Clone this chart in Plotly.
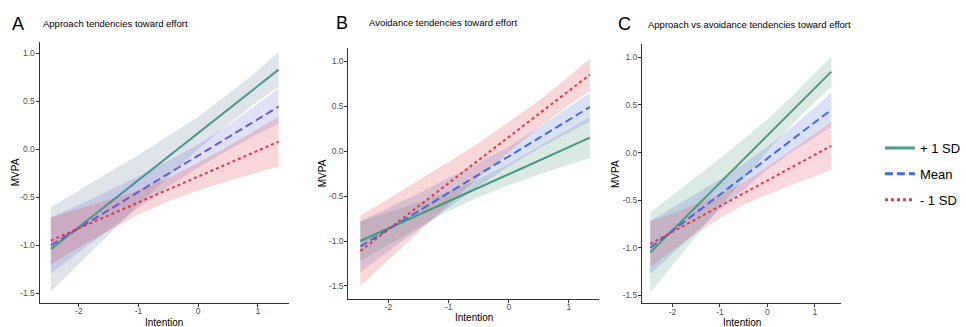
import plotly.graph_objects as go

# ---------------- data ----------------
band_x = [-2.47, -2.0, -1.5, -1.0, -0.5, 0.0, 0.5, 1.0, 1.35]
line_x = [-2.47, 1.35]
series_names = ["+ 1 SD", "Mean", "- 1 SD"]

x_tickvals = [-2, -1, 0, 1]
x_ticktext = ["-2", "-1", "0", "1"]
y_tickvals = [-1.5, -1.0, -0.5, 0.0, 0.5, 1.0]
y_ticktext = ["-1.5", "-1.0", "-0.5", "0.0", "0.5", "1.0"]

panel_letters = ["A", "B", "C"]
panel_titles = ["Approach tendencies toward effort",
                "Avoidance tendencies toward effort",
                "Approach vs avoidance tendencies toward effort"]

# Panel A
a_plus_line = [-1.04, 0.83]
a_plus_lo = [-1.48, -1.19, -0.89, -0.58, -0.29, 0.00, 0.26, 0.50, 0.65]
a_plus_hi = [-0.60, -0.43, -0.24, -0.06, 0.14, 0.34, 0.57, 0.82, 1.01]
a_mean_line = [-1.00, 0.445]
a_mean_lo = [-1.29, -1.07, -0.84, -0.61, -0.39, -0.19, -0.01, 0.16, 0.27]
a_mean_hi = [-0.71, -0.58, -0.43, -0.28, -0.12, 0.05, 0.25, 0.47, 0.63]
a_minus_line = [-0.95, 0.08]
a_minus_lo = [-1.20, -1.02, -0.85, -0.68, -0.54, -0.43, -0.33, -0.24, -0.18]
a_minus_hi = [-0.71, -0.62, -0.53, -0.43, -0.30, -0.14, 0.03, 0.21, 0.34]

# Panel B
b_plus_line = [-1.00, 0.15]
b_plus_lo = [-1.22, -1.04, -0.85, -0.67, -0.51, -0.38, -0.26, -0.15, -0.08]
b_plus_hi = [-0.78, -0.68, -0.57, -0.45, -0.31, -0.14, 0.05, 0.24, 0.38]
b_mean_line = [-1.06, 0.49]
b_mean_lo = [-1.35, -1.11, -0.87, -0.63, -0.39, -0.17, 0.03, 0.21, 0.33]
b_mean_hi = [-0.78, -0.63, -0.47, -0.30, -0.13, 0.05, 0.26, 0.49, 0.65]
b_minus_line = [-1.11, 0.85]
b_minus_lo = [-1.50, -1.21, -0.90, -0.59, -0.29, -0.01, 0.26, 0.51, 0.67]
b_minus_hi = [-0.72, -0.53, -0.33, -0.12, 0.09, 0.32, 0.56, 0.83, 1.03]

# Panel C
c_plus_line = [-1.05, 0.85]
c_plus_lo = [-1.47, -1.18, -0.88, -0.57, -0.28, 0.01, 0.28, 0.53, 0.69]
c_plus_hi = [-0.63, -0.45, -0.26, -0.06, 0.14, 0.35, 0.58, 0.83, 1.01]
c_mean_line = [-1.00, 0.45]
c_mean_lo = [-1.28, -1.06, -0.83, -0.60, -0.39, -0.18, 0.00, 0.16, 0.27]
c_mean_hi = [-0.72, -0.58, -0.43, -0.28, -0.12, 0.06, 0.26, 0.47, 0.63]
c_minus_line = [-0.96, 0.07]
c_minus_lo = [-1.20, -1.03, -0.85, -0.69, -0.55, -0.44, -0.34, -0.25, -0.18]
c_minus_hi = [-0.72, -0.64, -0.54, -0.44, -0.31, -0.15, 0.02, 0.20, 0.32]

# ---------------- styles ----------------
W, H = 966, 327
FONT = "Liberation Sans, Arial, Helvetica, sans-serif"

panels = [
    dict(series=[(a_plus_line, a_plus_lo, a_plus_hi), (a_mean_line, a_mean_lo, a_mean_hi),
                 (a_minus_line, a_minus_lo, a_minus_hi)],
         line_colors=["#4a968f", "#6a5acd", "#e0334a"],
         fill_colors=["rgba(95,120,150,0.2)", "rgba(100,100,215,0.2)", "rgba(225,50,60,0.2)"],
         px=(40, 293), py=(42, 303), xr=[-2.66, 1.53], yr=[-1.601, 1.118],
         letter_x=18, title_x=42, head_y=23.5, ylab_x=16, xlab_y=322),
    dict(series=[(b_plus_line, b_plus_lo, b_plus_hi), (b_mean_line, b_mean_lo, b_mean_hi),
                 (b_minus_line, b_minus_lo, b_minus_hi)],
         line_colors=["#3e9a80", "#4169e1", "#dc3545"],
         fill_colors=["rgba(75,145,125,0.2)", "rgba(70,105,205,0.2)", "rgba(225,50,60,0.2)"],
         px=(352.7, 607), py=(47.7, 299), xr=[-2.67, 1.51], yr=[-1.645, 1.151],
         letter_x=346, title_x=372, head_y=22.5, ylab_x=326, xlab_y=317),
    dict(series=[(c_plus_line, c_plus_lo, c_plus_hi), (c_mean_line, c_mean_lo, c_mean_hi),
                 (c_minus_line, c_minus_lo, c_minus_hi)],
         line_colors=["#4a9d7a", "#4169e1", "#e0364f"],
         fill_colors=["rgba(75,150,120,0.2)", "rgba(70,105,215,0.2)", "rgba(235,60,85,0.2)"],
         px=(650, 851.7), py=(44.3, 303.3), xr=[-2.646, 1.556], yr=[-1.584, 1.137],
         letter_x=632, title_x=654, head_y=24, ylab_x=624, xlab_y=322.5),
]
dashes = ["solid", "8px,4px", "3px,3px"]

fig = go.Figure()
annotations = []
for i, p in enumerate(panels):
    sfx = "" if i == 0 else str(i + 1)
    xa, ya = "x" + sfx, "y" + sfx
    # bands
    for (ln, lo, hi), fc in zip(p["series"], p["fill_colors"]):
        fig.add_trace(go.Scatter(
            x=band_x + band_x[::-1], y=hi + lo[::-1], fill="toself",
            fillcolor=fc, line=dict(width=0), mode="lines",
            hoverinfo="skip", showlegend=False, xaxis=xa, yaxis=ya))
    # lines
    for k, ((ln, lo, hi), lc) in enumerate(zip(p["series"], p["line_colors"])):
        fig.add_trace(go.Scatter(
            x=line_x, y=ln, mode="lines", name=series_names[k],
            line=dict(color=lc, width=2, dash=dashes[k]),
            showlegend=False, xaxis=xa, yaxis=ya))

    axis_common = dict(showline=True, linecolor="#333333", linewidth=1,
                       ticks="outside", ticklen=3, tickcolor="#333333", tickwidth=1,
                       showgrid=False, zeroline=False,
                       tickfont=dict(family=FONT, size=8.5, color="#4d4d4d"))
    fig.layout["xaxis" + sfx] = dict(
        domain=[p["px"][0] / W, p["px"][1] / W], range=p["xr"], anchor=ya,
        tickvals=x_tickvals, ticktext=x_ticktext, ticklabelstandoff=-3, **axis_common)
    fig.layout["yaxis" + sfx] = dict(
        domain=[1 - p["py"][1] / H, 1 - p["py"][0] / H], range=p["yr"], anchor=xa,
        tickvals=y_tickvals, ticktext=y_ticktext, ticklabelstandoff=-1, **axis_common)

    annotations += [
        dict(text=panel_letters[i], x=p["letter_x"] / W, y=1 - p["head_y"] / H,
             xref="paper", yref="paper", xanchor="center", yanchor="middle",
             showarrow=False, font=dict(family=FONT, size=18, color="black")),
        dict(text=panel_titles[i], x=p["title_x"] / W, y=1 - p["head_y"] / H,
             xref="paper", yref="paper", xanchor="left", yanchor="middle",
             showarrow=False, font=dict(family=FONT, size=9.5, color="black")),
        dict(text="MVPA", x=p["ylab_x"] / W, y=1 - (p["py"][0] + p["py"][1]) / 2 / H,
             xref="paper", yref="paper", xanchor="center", yanchor="middle", textangle=-90,
             showarrow=False, font=dict(family=FONT, size=10, color="black")),
        dict(text="Intention", x=(p["px"][0] + p["px"][1]) / 2 / W, y=1 - p["xlab_y"] / H,
             xref="paper", yref="paper", xanchor="center", yanchor="middle",
             showarrow=False, font=dict(family=FONT, size=10, color="black")),
    ]

# legend (uses panel C styling)
leg_colors = ["#4a9e7d", "#4169e1", "#e03a4a"]
for k in range(3):
    fig.add_trace(go.Scatter(
        x=[None], y=[None], mode="lines", name=series_names[k],
        line=dict(color=leg_colors[k], width=3, dash=dashes[k]),
        showlegend=True, legendgroup=str(k), xaxis="x3", yaxis="y3"))

fig.update_layout(
    width=W, height=H, margin=dict(l=0, r=0, t=0, b=0),
    paper_bgcolor="white", plot_bgcolor="white",
    annotations=annotations,
    legend=dict(x=891 / W, y=1 - 133 / H, xanchor="left", yanchor="top",
                font=dict(family=FONT, size=13, color="black"),
                tracegroupgap=6, bgcolor="rgba(0,0,0,0)", borderwidth=0),
)

fig.write_html("out.html", config={"displayModeBar": False},
               post_script="document.body.style.margin='0';document.body.style.padding='0';")
